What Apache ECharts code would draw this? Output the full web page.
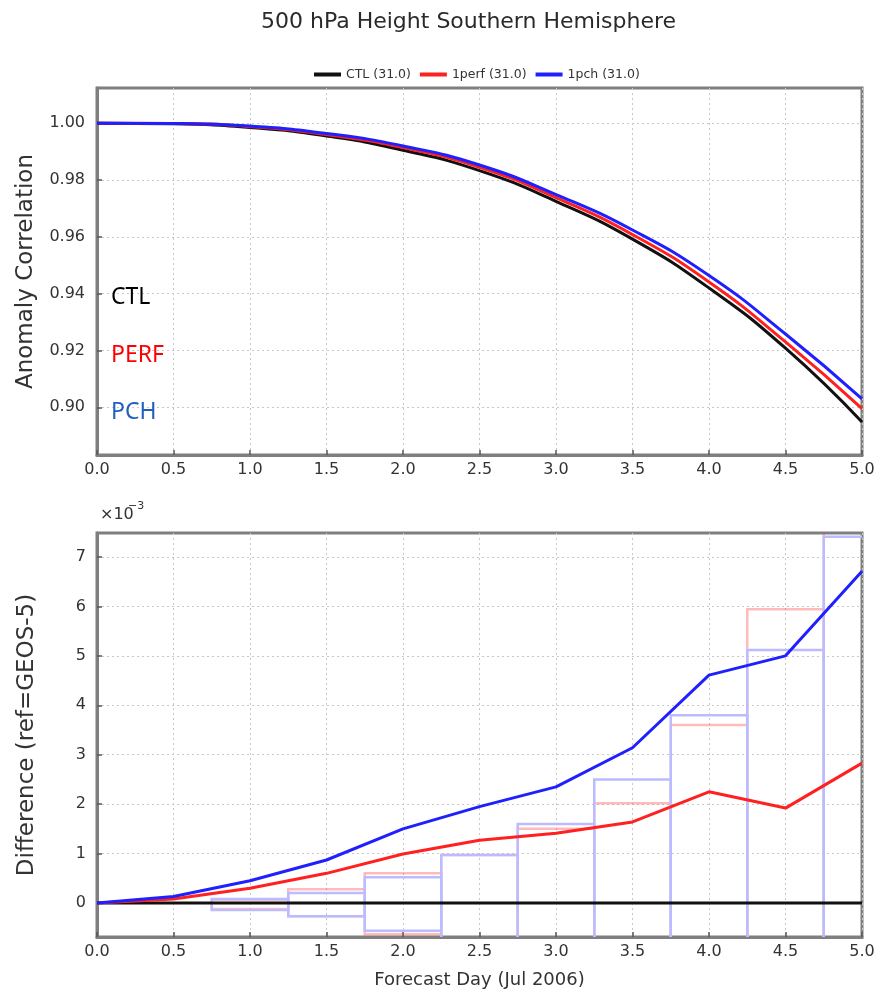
<!DOCTYPE html>
<html>
<head>
<meta charset="utf-8">
<script src="https://cdn.jsdelivr.net/npm/echarts@6/dist/echarts.min.js"></script>
<style>
html,body{margin:0;padding:0;background:#fff;}
#chart{width:886px;height:995px;}
</style>
</head>
<body>
<div id="chart"></div>
<script>
// ---------------- data ----------------
var forecastDays = [0.0, 0.5, 1.0, 1.5, 2.0, 2.5, 3.0, 3.5, 4.0, 4.5, 5.0];
var xTickLabels = ['0.0','0.5','1.0','1.5','2.0','2.5','3.0','3.5','4.0','4.5','5.0'];

// Anomaly correlation (top panel)
var acCTL  = [1.0000, 0.9998, 0.9985, 0.9955, 0.9905, 0.9833, 0.9725, 0.9592, 0.9420, 0.9208, 0.8948];
var acPERF = [1.0000, 0.9999, 0.9988, 0.9960, 0.9914, 0.9845, 0.9738, 0.9608, 0.9441, 0.9230, 0.8995];
var acPCH  = [1.0000, 0.9999, 0.9990, 0.9964, 0.9920, 0.9853, 0.9749, 0.9624, 0.9464, 0.9258, 0.9030];
var topYTicks = [0.90, 0.92, 0.94, 0.96, 0.98, 1.00];

// Difference relative to CTL, in units of 1e-3 (bottom panel)
var diffCTL  = [0, 0, 0, 0, 0, 0, 0, 0, 0, 0, 0];
var diffPERF = [0, 0.08, 0.30, 0.60, 0.99, 1.27, 1.41, 1.64, 2.25, 1.92, 2.83];
var diffPCH  = [0, 0.13, 0.45, 0.87, 1.50, 1.95, 2.35, 3.14, 4.61, 5.00, 6.71];
var bottomYTicks = [0, 1, 2, 3, 4, 5, 6, 7];

// Significance boxes (centre day, upper, lower), units of 1e-3
var boxCenters = [1.0, 1.5, 2.0, 2.5, 3.0, 3.5, 4.0, 4.5, 5.0];
var boxPERFUpper = [0.06, 0.28, 0.60, 0.97, 1.50, 2.02, 3.60, 5.94, 7.60];
var boxPERFLower = [-0.12, -0.27, -0.63, -0.97, -1.50, -2.02, -3.60, -5.94, -7.60];
var boxPCHUpper  = [0.08, 0.20, 0.52, 0.97, 1.60, 2.50, 3.80, 5.12, 7.41];
var boxPCHLower  = [-0.14, -0.27, -0.56, -0.97, -1.60, -2.50, -3.80, -5.12, -7.41];

var legendNames = ['CTL (31.0)', '1perf (31.0)', '1pch (31.0)'];

// ---------------- build ----------------
function pairs(xs, ys){ return xs.map(function(x,i){ return [x, ys[i]]; }); }
function boxes(c, hi, lo){ return c.map(function(x,i){ return [x, hi[i], lo[i]]; }); }

var FONT = 'DejaVu Sans';
var frame = '#7f7f7f';
var gridLine = {show:true, lineStyle:{color:'#c8c8c8', type:[2,3], width:1}};

function boxRender(color, underlay){
  return function(params, api){
    var c = api.value(0), hi = api.value(1), lo = api.value(2);
    var p0 = api.coord([c - 0.25, hi]);
    var p1 = api.coord([c + 0.25, lo]);
    var shape = {x:p0[0], y:p0[1], width:p1[0]-p0[0], height:p1[1]-p0[1]};
    var children = [];
    if (underlay){
      children.push({type:'rect', shape:shape, style:{fill:'none', stroke:'#ffffff', lineWidth:2.5}});
    }
    children.push({type:'rect', shape:shape, style:{fill:'none', stroke:color, lineWidth:2.5}});
    return {type:'group', children:children};
  };
}

function xAxisDef(gridIndex, withName){
  var a = {
    type:'value', gridIndex:gridIndex, min:0, max:5, interval:0.5,
    axisLine:{show:true, onZero:false, lineStyle:{color:frame, width:3}},
    axisTick:{show:true, inside:true, length:5, lineStyle:{color:'#555', width:1.5}},
    axisLabel:{color:'#333', fontSize:16, fontFamily:FONT, margin:7,
      formatter:function(v){ var i = Math.round(v*2); return xTickLabels[i]; }},
    splitLine:gridLine
  };
  if (withName){
    a.name = 'Forecast Day (Jul 2006)';
    a.nameLocation = 'middle';
    a.nameGap = 34;
    a.nameTextStyle = {color:'#333', fontSize:18, fontFamily:FONT};
  }
  return a;
}

var option = {
  animation:false,
  backgroundColor:'#ffffff',
  title:{
    text:'500 hPa Height Southern Hemisphere',
    left:256, top:6,
    textStyle:{color:'#2a2a2a', fontSize:22, fontWeight:'normal', fontFamily:FONT}
  },
  legend:{
    data:legendNames,
    left:309, top:63,
    icon:'rect', itemWidth:27, itemHeight:4, itemGap:9,
    textStyle:{color:'#333', fontSize:12.5, fontFamily:FONT}
  },
  grid:[
    {left:97, right:24, top:88, bottom:540, show:true, borderColor:frame, borderWidth:3, backgroundColor:'#fff'},
    {left:97, right:24, top:533, bottom:58, show:true, borderColor:frame, borderWidth:3, backgroundColor:'#fff'}
  ],
  xAxis:[ xAxisDef(0,false), xAxisDef(1,true) ],
  yAxis:[
    {
      type:'value', gridIndex:0, min:0.8832, max:1.0124,
      name:'Anomaly Correlation', nameLocation:'middle', nameGap:59,
      nameTextStyle:{color:'#333', fontSize:23, fontFamily:FONT},
      axisLine:{show:true, lineStyle:{color:frame, width:3}},
      axisTick:{show:true, inside:true, length:5, customValues:topYTicks, lineStyle:{color:'#555', width:1.5}},
      axisLabel:{color:'#333', fontSize:16, fontFamily:FONT, margin:12, customValues:topYTicks,
        formatter:function(v){ return v.toFixed(2); }},
      splitLine:gridLine
    },
    {
      type:'value', gridIndex:1, min:-0.688, max:7.485,
      name:'Difference (ref=GEOS-5)', nameLocation:'middle', nameGap:58,
      nameTextStyle:{color:'#333', fontSize:23, fontFamily:FONT},
      axisLine:{show:true, lineStyle:{color:frame, width:3}},
      axisTick:{show:true, inside:true, length:5, customValues:bottomYTicks, lineStyle:{color:'#555', width:1.5}},
      axisLabel:{color:'#333', fontSize:16, fontFamily:FONT, margin:11, customValues:bottomYTicks,
        formatter:function(v){ return String(Math.round(v)); }},
      splitLine:gridLine
    }
  ],
  series:[
    {name:legendNames[0], type:'line', xAxisIndex:0, yAxisIndex:0, data:pairs(forecastDays, acCTL),
      smooth:0.5, showSymbol:false, lineStyle:{color:'#111', width:3}, itemStyle:{color:'#111'}, z:3},
    {name:legendNames[1], type:'line', xAxisIndex:0, yAxisIndex:0, data:pairs(forecastDays, acPERF),
      smooth:0.5, showSymbol:false, lineStyle:{color:'#ff2020', width:3}, itemStyle:{color:'#ff2020'}, z:4},
    {name:legendNames[2], type:'line', xAxisIndex:0, yAxisIndex:0, data:pairs(forecastDays, acPCH),
      smooth:0.5, showSymbol:false, lineStyle:{color:'#2020ff', width:3}, itemStyle:{color:'#2020ff'}, z:5},

    {name:'perf box', type:'custom', xAxisIndex:1, yAxisIndex:1, clip:true, z:2,
      data:boxes(boxCenters, boxPERFUpper, boxPERFLower), encode:{x:0, y:[1,2]},
      renderItem:boxRender('rgba(255,60,60,0.35)', false)},
    {name:'pch box', type:'custom', xAxisIndex:1, yAxisIndex:1, clip:true, z:2,
      data:boxes(boxCenters, boxPCHUpper, boxPCHLower), encode:{x:0, y:[1,2]},
      renderItem:boxRender('rgba(60,60,255,0.35)', true)},

    {name:legendNames[0], type:'line', xAxisIndex:1, yAxisIndex:1, data:pairs(forecastDays, diffCTL),
      showSymbol:false, lineStyle:{color:'#111', width:3}, itemStyle:{color:'#111'}, z:3},
    {name:legendNames[1], type:'line', xAxisIndex:1, yAxisIndex:1, data:pairs(forecastDays, diffPERF),
      showSymbol:false, lineStyle:{color:'#ff2020', width:3}, itemStyle:{color:'#ff2020'}, z:4},
    {name:legendNames[2], type:'line', xAxisIndex:1, yAxisIndex:1, data:pairs(forecastDays, diffPCH),
      showSymbol:false, lineStyle:{color:'#2020ff', width:3}, itemStyle:{color:'#2020ff'}, z:5}
  ],
  graphic:[
    {type:'text', left:111, top:286, style:{text:'CTL', fill:'#000', fontSize:23, fontFamily:'Noto Sans'}, z:10},
    {type:'text', left:111, top:344, style:{text:'PERF', fill:'#ff0000', fontSize:23, fontFamily:'Noto Sans'}, z:10},
    {type:'text', left:111, top:401, style:{text:'PCH', fill:'#1f5fbf', fontSize:23, fontFamily:'Noto Sans'}, z:10},
    {type:'text', left:100, top:507, style:{text:'\u00d710', fill:'#333', fontSize:16, fontFamily:FONT}, z:10},
    {type:'text', left:128, top:501, style:{text:'\u22123', fill:'#333', fontSize:11, fontFamily:FONT}, z:10}
  ]
};

var chart = echarts.init(document.getElementById('chart'), null, {renderer:'canvas'});
chart.setOption(option);
</script>
</body>
</html>
